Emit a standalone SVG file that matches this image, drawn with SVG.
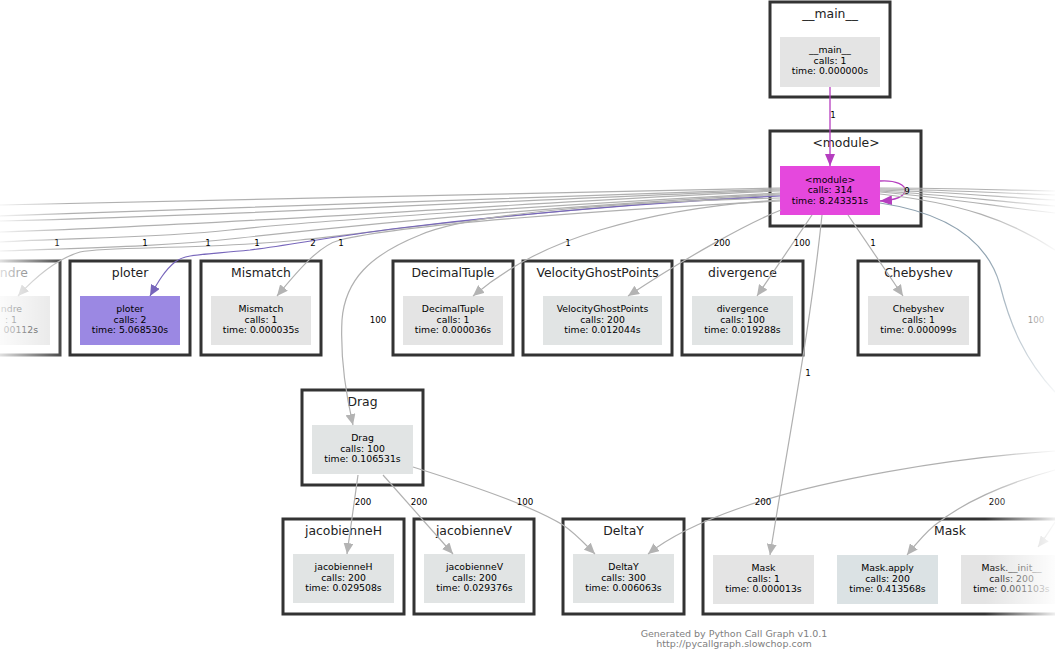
<svg xmlns="http://www.w3.org/2000/svg" width="1055" height="650" viewBox="0 0 1055 650">
<defs>
<style>
.c{fill:#fff;stroke:#333;stroke-width:3}
.b{fill:#e4e4e4}
.bb{fill:#e1e4e4}
.t{font-family:"DejaVu Sans",sans-serif;font-size:12.4px;fill:#222;text-anchor:middle}
.n{font-family:"DejaVu Sans",sans-serif;font-size:9.3px;fill:#000;text-anchor:middle}
.l{font-family:"DejaVu Sans",sans-serif;font-size:8.7px;fill:#000;text-anchor:middle}
.e{fill:none;stroke:#b0b0b0;stroke-width:1.2}
.ep{fill:none;stroke:#7766bb;stroke-width:1.2}
.em{fill:none;stroke:#b53dbf;stroke-width:1.3}
.f{font-family:"DejaVu Sans",sans-serif;font-size:9.5px;fill:#808080;text-anchor:middle}
</style>
<marker id="ag" markerUnits="userSpaceOnUse" markerWidth="11" markerHeight="10" refX="11" refY="5" orient="auto"><path d="M0,0 L11,5 L0,10 z" fill="#b3b3b3"/></marker>
<marker id="ap" markerUnits="userSpaceOnUse" markerWidth="11" markerHeight="10" refX="11" refY="5" orient="auto"><path d="M0,0 L11,5 L0,10 z" fill="#7766bb"/></marker>
<marker id="am" markerUnits="userSpaceOnUse" markerWidth="12" markerHeight="10" refX="12" refY="5" orient="auto"><path d="M0,0 L12,5 L0,10 z" fill="#b53dbf"/></marker>
<linearGradient id="fl" x1="0" y1="0" x2="1" y2="0"><stop offset="0" stop-color="#fff" stop-opacity="0.85"/><stop offset="1" stop-color="#fff" stop-opacity="0"/></linearGradient>
<linearGradient id="fr" x1="0" y1="0" x2="1" y2="0"><stop offset="0" stop-color="#fff" stop-opacity="0"/><stop offset="1" stop-color="#fff" stop-opacity="0.92"/></linearGradient>
</defs>
<rect width="1055" height="650" fill="#fff"/>

<g id="n_main">
<rect class="c" x="770" y="2" width="120" height="95"/>
<text class="t" x="830" y="18">__main__</text>
<rect class="b" x="780" y="37" width="100" height="50"/>
<text class="n" x="830" y="53">__main__</text>
<text class="n" x="830" y="64">calls: 1</text>
<text class="n" x="830" y="74">time: 0.000000s</text>
</g>

<g id="n_module">
<rect class="c" x="770" y="131" width="151" height="95"/>
<text class="t" x="846" y="147">&lt;module&gt;</text>
<rect x="780" y="166" width="100" height="49" fill="#e548dd"/>
<text class="n" x="830" y="183">&lt;module&gt;</text>
<text class="n" x="830" y="193">calls: 314</text>
<text class="n" x="830" y="204">time: 8.243351s</text>
</g>

<g id="n_legendre">
<rect class="c" x="-62" y="261" width="122" height="94"/>
<text class="t" x="28" y="277" style="text-anchor:end">ndre</text>
<rect class="b" x="-50" y="296" width="100" height="49"/>
<text class="n" x="22" y="312" style="text-anchor:end">ndre</text>
<text class="n" x="17" y="323" style="text-anchor:end">: 1</text>
<text class="n" x="38" y="333" style="text-anchor:end">00112s</text>
</g>

<g id="n_ploter">
<rect class="c" x="70" y="261" width="120" height="94"/>
<text class="t" x="130" y="277">ploter</text>
<rect x="80" y="296" width="100" height="49" fill="#9b88e3"/>
<text class="n" x="130" y="312">ploter</text>
<text class="n" x="130" y="323">calls: 2</text>
<text class="n" x="130" y="333">time: 5.068530s</text>
</g>

<g id="n_mismatch">
<rect class="c" x="201" y="261" width="120" height="94"/>
<text class="t" x="261" y="277">Mismatch</text>
<rect class="b" x="211" y="296" width="100" height="49"/>
<text class="n" x="261" y="312">Mismatch</text>
<text class="n" x="261" y="323">calls: 1</text>
<text class="n" x="261" y="333">time: 0.000035s</text>
</g>

<g id="n_decimaltuple">
<rect class="c" x="393" y="261" width="120" height="94"/>
<text class="t" x="453" y="277">DecimalTuple</text>
<rect class="b" x="403" y="296" width="100" height="49"/>
<text class="n" x="453" y="312">DecimalTuple</text>
<text class="n" x="453" y="323">calls: 1</text>
<text class="n" x="453" y="333">time: 0.000036s</text>
</g>

<g id="n_velocityghostpoints">
<rect class="c" x="523" y="261" width="149" height="94"/>
<text class="t" x="597.5" y="277">VelocityGhostPoints</text>
<rect class="bb" x="543" y="296" width="119" height="49"/>
<text class="n" x="602.5" y="312">VelocityGhostPoints</text>
<text class="n" x="602.5" y="323">calls: 200</text>
<text class="n" x="602.5" y="333">time: 0.012044s</text>
</g>

<g id="n_divergence">
<rect class="c" x="682" y="261" width="121" height="94"/>
<text class="t" x="742.5" y="277">divergence</text>
<rect class="bb" x="692" y="296" width="101" height="49"/>
<text class="n" x="742.5" y="312">divergence</text>
<text class="n" x="742.5" y="323">calls: 100</text>
<text class="n" x="742.5" y="333">time: 0.019288s</text>
</g>

<g id="n_chebyshev">
<rect class="c" x="858" y="261" width="121" height="94"/>
<text class="t" x="918.5" y="277">Chebyshev</text>
<rect class="b" x="868" y="296" width="101" height="49"/>
<text class="n" x="918.5" y="312">Chebyshev</text>
<text class="n" x="918.5" y="323">calls: 1</text>
<text class="n" x="918.5" y="333">time: 0.000099s</text>
</g>

<g id="n_drag">
<rect class="c" x="302" y="390" width="121" height="95"/>
<text class="t" x="362.5" y="406">Drag</text>
<rect class="bb" x="312" y="425" width="101" height="49"/>
<text class="n" x="362.5" y="441">Drag</text>
<text class="n" x="362.5" y="452">calls: 100</text>
<text class="n" x="362.5" y="462">time: 0.106531s</text>
</g>

<g id="n_jacobienneH">
<rect class="c" x="283" y="519" width="121" height="95"/>
<text class="t" x="343.5" y="535">jacobienneH</text>
<rect class="bb" x="293" y="554" width="101" height="49"/>
<text class="n" x="343.5" y="570">jacobienneH</text>
<text class="n" x="343.5" y="581">calls: 200</text>
<text class="n" x="343.5" y="591">time: 0.029508s</text>
</g>

<g id="n_jacobienneV">
<rect class="c" x="414" y="519" width="120" height="95"/>
<text class="t" x="474" y="535">jacobienneV</text>
<rect class="bb" x="424" y="554" width="101" height="49"/>
<text class="n" x="474.5" y="570">jacobienneV</text>
<text class="n" x="474.5" y="581">calls: 200</text>
<text class="n" x="474.5" y="591">time: 0.029376s</text>
</g>

<g id="n_deltay">
<rect class="c" x="563" y="519" width="121" height="95"/>
<text class="t" x="623.5" y="535">DeltaY</text>
<rect class="bb" x="573" y="554" width="101" height="49"/>
<text class="n" x="623.5" y="570">DeltaY</text>
<text class="n" x="623.5" y="581">calls: 300</text>
<text class="n" x="623.5" y="591">time: 0.006063s</text>
</g>

<g id="n_mask_cluster">
<rect class="c" x="703" y="519" width="500" height="95"/>
<text class="t" x="950" y="535">Mask</text>
</g>
<g id="n_mask">
<rect class="b" x="713" y="555" width="101" height="49"/>
<text class="n" x="763.5" y="571">Mask</text>
<text class="n" x="763.5" y="582">calls: 1</text>
<text class="n" x="763.5" y="592">time: 0.000013s</text>
</g>
<g id="n_mask_apply">
<rect x="837" y="555" width="101" height="49" fill="#dbe2e4"/>
<text class="n" x="887.5" y="571">Mask.apply</text>
<text class="n" x="887.5" y="582">calls: 200</text>
<text class="n" x="887.5" y="592">time: 0.413568s</text>
</g>
<g id="n_mask_init">
<rect class="b" x="961" y="555" width="101" height="49"/>
<text class="n" x="1011.5" y="571">Mask.__init__</text>
<text class="n" x="1011.5" y="582">calls: 200</text>
<text class="n" x="1011.5" y="592">time: 0.001103s</text>
</g>

<g id="edges">
<path class="em" d="M830,87 L830,166" marker-end="url(#am)"/>
<path class="em" d="M880,181 C896,180 906,185 905,191 C904,196 897,200 880,201" marker-end="url(#am)"/>

<path class="e" d="M780,188 C600,190 300,197 0,205"/>
<path class="e" d="M780,189 C600,194 300,207 0,216"/>
<path class="e" d="M780,190 C580,197 280,214 0,221"/>
<path class="e" d="M780,191 C560,200 250,224 0,232"/>
<path class="e" d="M780,193 C550,205 300,222 230,230 C160,238 60,238 0,242"/>
<path class="e" d="M780,194 C520,208 330,228 240,238 C160,247 80,248 0,251"/>
<path class="e" d="M780,195 C520,210 380,232 300,240 C200,250 110,246 80,252 C60,258 40,272 18,296" marker-end="url(#ag)"/>
<path class="ep" d="M780,196 C600,205 450,222 400,228 C330,237 290,245 250,250 C200,255 185,254 175,262 C165,270 158,282 150,296" marker-end="url(#ap)"/>
<path class="e" d="M780,201 C600,210 400,225 340,240 C320,245 300,268 277,296" marker-end="url(#ag)"/>
<path class="e" d="M780,198 C620,202 470,213 420,235 C370,255 345,280 342,320 C340,360 346,395 353,425" marker-end="url(#ag)"/>
<path class="e" d="M780,200 C700,205 640,218 600,230 C550,245 510,265 473,296" marker-end="url(#ag)"/>
<path class="e" d="M781,210 C750,222 690,255 628,296" marker-end="url(#ag)"/>
<path class="e" d="M812,215 L757,296" marker-end="url(#ag)"/>
<path class="e" d="M848,215 L903,296" marker-end="url(#ag)"/>
<path class="e" d="M822,215 C810,330 790,430 770,555" marker-end="url(#ag)"/>

<path class="e" d="M880,188 C950,188 1000,190 1055,191"/>
<path class="e" d="M880,189 C950,190 1000,193 1055,195"/>
<path class="e" d="M880,190 C950,192 1000,197 1055,200"/>
<path class="e" d="M880,191 C950,195 1000,202 1055,206"/>
<path class="e" d="M880,192 C950,198 1000,207 1055,213"/>
<path class="e" d="M880,194 C960,203 1010,220 1055,250"/>
<path fill="none" stroke="#8fa2b0" stroke-width="1.2" d="M880,203 C960,215 990,250 1000,285 C1010,325 1025,360 1055,392"/>

<path class="e" d="M1055,451 C950,458 820,480 740,508 C700,522 668,538 648,554" marker-end="url(#ag)"/>
<path class="e" d="M1055,470 C1000,485 960,505 935,525 C925,533 915,545 907,555" marker-end="url(#ag)"/>
<path class="e" d="M1055,522 C1050,530 1045,538 1038,547" marker-end="url(#ag)"/>

<path class="e" d="M358,475 L347,554" marker-end="url(#ag)"/>
<path class="e" d="M383,475 L453,554" marker-end="url(#ag)"/>
<path class="e" d="M413,467 C470,485 530,505 563,525 C575,533 585,544 595,554" marker-end="url(#ag)"/>

<text class="l" x="833" y="118">1</text>
<text class="l" x="907" y="194">9</text>
<text class="l" x="57" y="246">1</text>
<text class="l" x="145" y="246">1</text>
<text class="l" x="208" y="246">1</text>
<text class="l" x="257" y="246">1</text>
<text class="l" x="313" y="246">2</text>
<text class="l" x="341" y="246">1</text>
<text class="l" x="568" y="246">1</text>
<text class="l" x="722" y="246">200</text>
<text class="l" x="802" y="246">100</text>
<text class="l" x="873" y="246">1</text>
<text class="l" x="378" y="323">100</text>
<text class="l" x="808" y="376">1</text>
<text class="l" x="1036" y="323">100</text>
<text class="l" x="363" y="505">200</text>
<text class="l" x="419" y="505">200</text>
<text class="l" x="525" y="505">100</text>
<text class="l" x="763" y="505">200</text>
<text class="l" x="997" y="505">200</text>
</g>

<rect x="0" y="0" width="70" height="650" fill="url(#fl)"/>
<rect x="985" y="0" width="70" height="650" fill="url(#fr)"/>

<g id="footer">
<text class="f" x="734" y="637">Generated by Python Call Graph v1.0.1</text>
<text class="f" x="734" y="647">http://pycallgraph.slowchop.com</text>
</g>
</svg>
